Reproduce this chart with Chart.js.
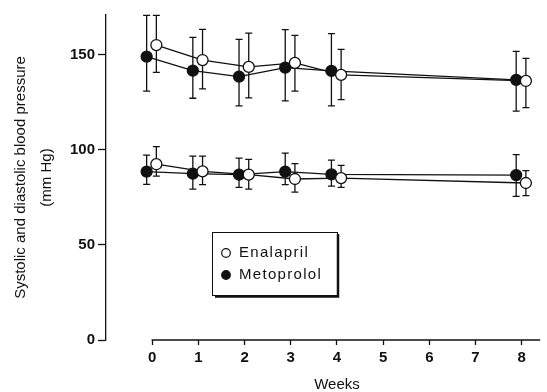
<!DOCTYPE html>
<html>
<head>
<meta charset="utf-8">
<script src="https://cdn.jsdelivr.net/npm/chart.js@4"></script>
<style>
	html, body { margin: 0; padding: 0; background: #fff; }
	#wrap { width: 547px; height: 392px; }
</style>
</head>
<body>
<div id="wrap"><canvas id="bp_chart"></canvas></div>
<script>
const weeks = [0, 1, 2, 3, 4, 8];

// systolic
const ena_sys = [155.2, 147.3, 143.7, 145.8, 139.5, 136.3];
const ena_sys_hi = [170.8, 163.4, 161.5, 160.3, 152.9, 148.2];
const ena_sys_lo = [140.8, 132.1, 127.4, 130.9, 126.5, 122.3];
const met_sys = [149.1, 141.7, 138.6, 143.3, 141.6, 136.9];
const met_sys_hi = [170.8, 159.2, 158.2, 163.3, 161.2, 151.9];
const met_sys_lo = [130.9, 127.2, 123.2, 125.8, 123.2, 120.4];

// diastolic
const ena_dia = [92.5, 88.7, 87.0, 84.7, 85.2, 82.6];
const ena_dia_hi = [101.7, 96.7, 95.0, 92.8, 91.9, 89.1];
const ena_dia_lo = [86.2, 81.7, 79.4, 77.8, 80.3, 76.0];
const met_dia = [88.6, 87.5, 87.0, 88.6, 87.1, 86.8];
const met_dia_hi = [97.3, 96.7, 95.7, 98.3, 94.6, 97.5];
const met_dia_lo = [81.9, 79.4, 80.3, 81.7, 81.0, 75.6];

const x_ticks = [0, 1, 2, 3, 4, 5, 6, 7, 8];
const y_ticks = [0, 50, 100, 150];

// points are nudged sideways so the two groups don't sit on top of each other
const ena_shift = 0.09;
const met_shift = -0.12;

const FONT = "'Liberation Sans', Arial, sans-serif";

function pts(vals, shift) {
	return vals.map((v, i) => ({ x: weeks[i] + shift, y: v }));
}

const line_settings = {
	showLine: true,
	borderColor: '#111',
	borderWidth: 1.3,
	pointRadius: 5.5,
	pointHoverRadius: 5.5,
	pointBorderWidth: 1.3,
	pointBorderColor: '#111',
	tension: 0,
}

const ena_style = { pointBackgroundColor: '#fff', backgroundColor: '#fff', ...line_settings };
const met_style = { pointBackgroundColor: '#111', backgroundColor: '#111', ...line_settings };

const chart_data = {
	datasets: [{
		label: 'Enalapril',
		data: pts(ena_sys, ena_shift),
		err_hi: ena_sys_hi, err_lo: ena_sys_lo,
		...ena_style
	}, {
		label: 'Enalapril',
		data: pts(ena_dia, ena_shift),
		err_hi: ena_dia_hi, err_lo: ena_dia_lo,
		...ena_style
	}, {
		label: 'Metoprolol',
		data: pts(met_sys, met_shift),
		err_hi: met_sys_hi, err_lo: met_sys_lo,
		...met_style
	}, {
		label: 'Metoprolol',
		data: pts(met_dia, met_shift),
		err_hi: met_dia_hi, err_lo: met_dia_lo,
		...met_style
	}]
}

const error_bars = {
	id: 'error_bars',
	beforeDatasetsDraw(chart) {
		const ctx = chart.ctx;
		const ys = chart.scales.y;
		ctx.save();
		ctx.strokeStyle = '#111';
		ctx.lineWidth = 1.3;
		chart.data.datasets.forEach((ds, di) => {
			const meta = chart.getDatasetMeta(di);
			meta.data.forEach((pt, i) => {
				const top = ys.getPixelForValue(ds.err_hi[i]);
				const bot = ys.getPixelForValue(ds.err_lo[i]);
				ctx.beginPath();
				ctx.moveTo(pt.x, top);
				ctx.lineTo(pt.x, bot);
				ctx.moveTo(pt.x - 3.5, top);
				ctx.lineTo(pt.x + 3.5, top);
				ctx.moveTo(pt.x - 3.5, bot);
				ctx.lineTo(pt.x + 3.5, bot);
				ctx.stroke();
			});
		});
		ctx.restore();
	}
}

const extras = {
	id: 'extras',
	afterDraw(chart) {
		const ctx = chart.ctx;
		const xs = chart.scales.x;
		const area = chart.chartArea;
		ctx.save();

		// x axis line starts at week 0
		ctx.strokeStyle = '#111';
		ctx.lineWidth = 1.3;
		ctx.beginPath();
		ctx.moveTo(xs.getPixelForValue(0) - 0.6, area.bottom);
		ctx.lineTo(area.right, area.bottom);
		ctx.stroke();

		// axis title centred under the week ticks
		ctx.fillStyle = '#111';
		ctx.font = '15px ' + FONT;
		ctx.textAlign = 'center';
		ctx.textBaseline = 'middle';
		ctx.fillText('Weeks', xs.getPixelForValue(4), 385);

		// legend box
		const bx = area.left + 106, by = 232, bw = 125, bh = 63;
		ctx.fillStyle = '#fff';
		ctx.fillRect(bx, by, bw, bh);
		ctx.lineWidth = 1;
		ctx.strokeRect(bx + 0.5, by + 0.5, bw, bh);
		ctx.lineWidth = 2.5;
		ctx.beginPath();
		ctx.moveTo(bx + bw + 1, by + 2);
		ctx.lineTo(bx + bw + 1, by + bh + 1.5);
		ctx.lineTo(bx + 3, by + bh + 1.5);
		ctx.stroke();

		const entries = [
			{ label: 'Enalapril', fill: '#fff', y: by + 21 },
			{ label: 'Metoprolol', fill: '#111', y: by + 43 },
		];
		ctx.font = '15px ' + FONT;
		ctx.letterSpacing = '1.3px';
		ctx.textAlign = 'left';
		entries.forEach(e => {
			ctx.beginPath();
			ctx.arc(bx + 14, e.y, 4.3, 0, Math.PI * 2);
			ctx.fillStyle = e.fill;
			ctx.fill();
			ctx.lineWidth = 1.2;
			ctx.strokeStyle = '#111';
			ctx.stroke();
			ctx.fillStyle = '#111';
			ctx.fillText(e.label, bx + 27, e.y);
		});
		ctx.restore();
	}
}

const options = {
	responsive: true,
	maintainAspectRatio: false,
	animation: false,
	layout: {
		padding: { top: 15, right: 0, bottom: 0, left: 0 }
	},
	plugins: {
		legend: { display: false },
		tooltip: { enabled: false },
		title: { display: false }
	},
	scales: {
		x: {
			type: 'linear',
			min: -1,
			max: 8.4,
			afterFit: (scale) => { scale.height = 52; },
			afterBuildTicks: (scale) => { scale.ticks = x_ticks.map(v => ({ value: v })); },
			border: { display: false },
			grid: {
				drawOnChartArea: false,
				drawTicks: true,
				tickLength: 5,
				tickWidth: 1.3,
				tickColor: '#111'
			},
			ticks: {
				color: '#111',
				padding: 4,
				font: { family: FONT, size: 15, weight: 'bold' }
			}
		},
		y: {
			type: 'linear',
			min: 0,
			max: 171,
			afterFit: (scale) => { scale.width = 106; },
			afterBuildTicks: (scale) => { scale.ticks = y_ticks.map(v => ({ value: v })); },
			border: { display: true, color: '#111', width: 1.3 },
			grid: {
				drawOnChartArea: false,
				drawTicks: true,
				tickLength: 8,
				tickWidth: 1.3,
				tickColor: '#111'
			},
			ticks: {
				color: '#111',
				padding: 3,
				font: { family: FONT, size: 15, weight: 'bold' }
			},
			title: {
				display: true,
				text: ['Systolic and diastolic blood pressure', '(mm Hg)'],
				color: '#111',
				padding: { top: 8, bottom: 0 },
				font: { family: FONT, size: 15, lineHeight: '26px' }
			}
		}
	}
}

const bp_chart = new Chart(document.getElementById('bp_chart').getContext('2d'), {
	type: 'scatter',
	data: chart_data,
	options: options,
	plugins: [error_bars, extras]
});
</script>
</body>
</html>
